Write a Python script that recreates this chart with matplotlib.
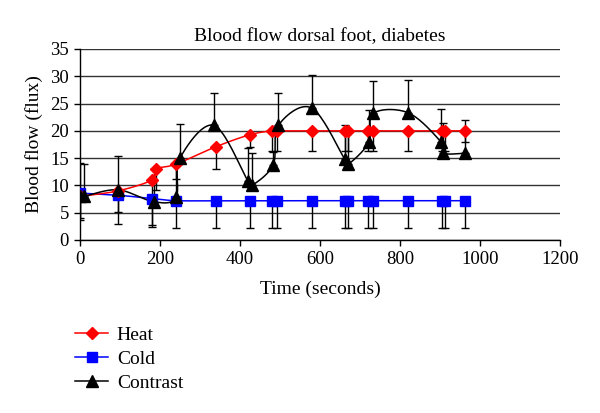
import numpy as np
import matplotlib
matplotlib.use("Agg")
import matplotlib.pyplot as plt
from matplotlib.lines import Line2D

plt.rcParams['font.family'] = ['Liberation Serif', 'DejaVu Serif']

# ---- data ----
heat_t = [0, 95, 180, 190, 240, 340, 425, 479, 492, 579, 662, 671, 721, 733, 821, 904, 912, 962]
heat_v = [8, 9, 11, 13, 13.9, 17.1, 19.3, 20, 20, 20, 20, 20, 20, 20, 20, 20, 20, 20]
heat_err = [4, 3.8, 8.3, 3.8, 2.7, 4, 2.2, 3.7, 3.7, 3.7, 3.7, 3.7, 3.7, 3.7, 3.7, 3.7, 3.7, 2]

cold_t = [0, 95, 180, 240, 340, 425, 479, 492, 579, 662, 671, 721, 733, 821, 904, 912, 962]
cold_v = [8.6, 8.2, 7.6, 7.2, 7.2, 7.2, 7.2, 7.2, 7.2, 7.2, 7.2, 7.2, 7.2, 7.2, 7.2, 7.2, 7.2]
cold_err = [5.0, 5.3, 5.2, 5.0, 5.0, 5.0, 5.0, 5.0, 5.0, 5.0, 5.0, 5.0, 5.0, 5.0, 5.0, 5.0, 5.0]

con_t = [0, 10, 95, 185, 240, 250, 335, 420, 430, 483, 496, 579, 662, 671, 722, 733, 821, 902, 908, 962]
con_v = [8, 8, 9.2, 7, 7.8, 15, 21, 10.8, 10, 13.8, 21, 24.2, 14.8, 13.9, 17.9, 23.2, 23.3, 18, 15.9, 15.9]
con_err = [6.2, 6, 6.2, 6, 6, 6.2, 6, 6, 6, 2.4, 6, 6, 6.2, 6, 6, 6, 6, 6, 5.5, 6]

x_ticks = [0, 200, 400, 600, 800, 1000, 1200]
y_ticks = [0, 5, 10, 15, 20, 25, 30, 35]


def smooth(xs, ys, n=20):
    """Parametric uniform Catmull-Rom spline (like Excel smoothed lines)."""
    P = np.column_stack([xs, ys]).astype(float)
    P = np.vstack([P[0], P, P[-1]])
    out = []
    for i in range(1, len(P) - 2):
        p0, p1, p2, p3 = P[i - 1], P[i], P[i + 1], P[i + 2]
        t = np.linspace(0, 1, n, endpoint=False)[:, None]
        seg = 0.5 * ((2 * p1) + (-p0 + p2) * t + (2 * p0 - 5 * p1 + 4 * p2 - p3) * t ** 2
                     + (-p0 + 3 * p1 - 3 * p2 + p3) * t ** 3)
        out.append(seg)
    out.append(P[-2][None, :])
    out = np.vstack(out)
    return out[:, 0], out[:, 1]


fig = plt.figure(figsize=(6.0, 4.13), dpi=100)
ax = fig.add_axes([80 / 600, 1 - 240 / 413, 480 / 600, 191 / 413])

ax.set_xlim(0, 1200)
ax.set_ylim(0, 35)
ax.set_xticks(x_ticks)
ax.set_yticks(y_ticks)
ax.yaxis.grid(True, color='#333333', linewidth=1.0)
ax.set_axisbelow(True)
for s in ['top', 'right']:
    ax.spines[s].set_visible(False)
ax.spines['left'].set_linewidth(1.0)
ax.spines['bottom'].set_linewidth(1.0)
ax.tick_params(axis='both', direction='out', length=4, width=1, labelsize=13.5, colors='black')
ax.tick_params(axis='x', pad=4)
ax.tick_params(axis='y', pad=4)

# error bars (one-sided like the original)
ax.errorbar(heat_t, heat_v, yerr=[heat_err, [0] * len(heat_err)], fmt='none',
            ecolor='black', elinewidth=1, capsize=3, capthick=1, zorder=2)
ax.errorbar(cold_t, cold_v, yerr=[cold_err, [0] * len(cold_err)], fmt='none',
            ecolor='black', elinewidth=1, capsize=3, capthick=1, zorder=2)
ax.errorbar(con_t, con_v, yerr=[[0] * len(con_err), con_err], fmt='none',
            ecolor='black', elinewidth=1, capsize=3, capthick=1, zorder=2)

# lines
for xs, ys, c in [(cold_t, cold_v, '#0000ff'), (heat_t, heat_v, '#ff0000'), (con_t, con_v, 'black')]:
    sx, sy = smooth(xs, ys)
    ax.plot(sx, sy, color=c, linewidth=1.1, zorder=3)

ax.plot(cold_t, cold_v, linestyle='none', marker='s', markersize=7, color='#0000ff', zorder=4)
ax.plot(heat_t, heat_v, linestyle='none', marker='D', markersize=6, color='#ff0000', zorder=4)
ax.plot(con_t, con_v, linestyle='none', marker='^', markersize=8, color='black', zorder=5)

ax.set_title('Blood flow dorsal foot, diabetes', fontsize=14, pad=6)
ax.set_xlabel('Time (seconds)', fontsize=14, labelpad=9)
ax.set_ylabel('Blood flow (flux)', fontsize=14, labelpad=5)

handles = [
    Line2D([], [], color='#ff0000', marker='D', markersize=6, linewidth=1.1),
    Line2D([], [], color='#0000ff', marker='s', markersize=7, linewidth=1.1),
    Line2D([], [], color='black', marker='^', markersize=8, linewidth=1.1),
]
fig.legend(handles, ['Heat', 'Cold', 'Contrast'], loc='upper left',
           bbox_to_anchor=(75 / 600, 1 - 326 / 413), frameon=False, fontsize=14,
           handlelength=1.7, handletextpad=0.45, labelspacing=0.34,
           borderpad=0, borderaxespad=0)

fig.savefig('out.png', dpi=100)
